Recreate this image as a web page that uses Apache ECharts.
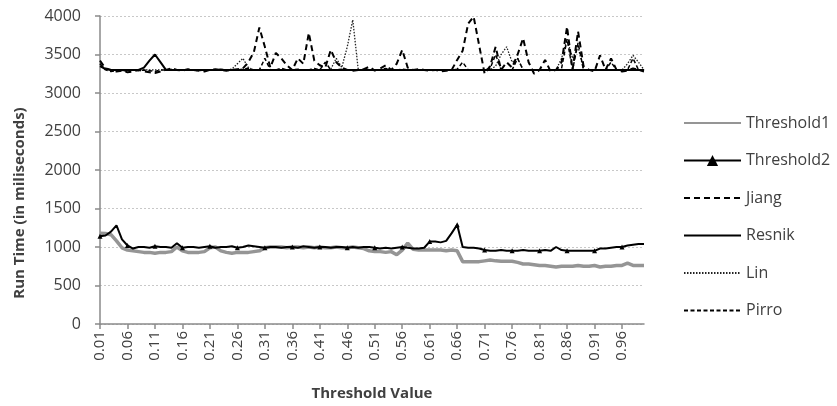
<!DOCTYPE html>
<html><head><meta charset="utf-8">
<script src="https://cdn.jsdelivr.net/npm/echarts@6/dist/echarts.min.js"></script>
<style>html,body{margin:0;padding:0;background:#fff}#c{width:837px;height:406px}</style>
</head><body><div id="c"></div>
<script>
const categories = [];
for (let k = 1; k <= 100; k++) categories.push((k / 100).toFixed(2));

const threshold1 = [1180,1175,1160,1080,990,960,950,940,930,930,920,930,930,940,1000,950,930,930,930,940,
990,1000,950,930,920,930,930,930,940,950,990,1000,1000,1000,990,1000,1000,990,1000,990,
1000,990,990,1000,990,990,1000,990,980,950,940,940,930,940,900,960,1050,970,960,960,
960,960,960,950,960,950,810,810,810,810,820,830,820,815,815,815,800,780,780,770,
760,760,750,740,750,750,750,760,750,750,760,740,750,750,760,760,790,760,760,760];

const threshold2 = [1140,1150,1200,1280,1100,1020,980,1000,1000,990,1010,1000,1000,990,1050,990,1000,1000,990,1000,
1010,990,1000,1000,1010,990,1000,1020,1010,1000,990,1000,1000,990,1000,1000,990,1010,1000,990,
1000,1000,990,1000,1000,990,1000,990,1000,1000,990,980,990,980,990,1000,990,980,980,990,
1070,1070,1060,1080,1180,1290,1000,990,990,980,960,950,950,960,950,950,950,960,950,950,
950,960,950,1000,960,950,950,950,950,950,950,980,980,990,1000,1000,1020,1030,1040,1040];

const jiang = [3420,3320,3300,3280,3290,3270,3280,3300,3280,3270,3260,3280,3300,3320,3300,3290,3310,3300,3290,3280,
3300,3310,3300,3290,3300,3310,3320,3400,3530,3850,3600,3330,3520,3450,3360,3300,3450,3380,3780,3420,
3360,3330,3560,3400,3330,3300,3290,3300,3310,3340,3290,3320,3360,3300,3380,3560,3330,3300,3310,3300,
3290,3300,3280,3290,3300,3430,3550,3900,3990,3620,3250,3350,3600,3300,3400,3330,3500,3710,3400,3250,
3300,3430,3280,3300,3400,3860,3300,3800,3350,3300,3280,3490,3300,3450,3300,3280,3290,3320,3300,3280];

const resnik = [3350,3310,3300,3300,3300,3300,3300,3300,3330,3420,3500,3400,3300,3300,3300,3300,3300,3300,3300,3300,
3300,3300,3300,3300,3300,3300,3300,3300,3300,3300,3300,3300,3300,3300,3300,3300,3300,3300,3300,3300,
3300,3300,3300,3300,3300,3300,3300,3300,3300,3300,3300,3300,3300,3300,3300,3300,3300,3300,3300,3300,
3300,3300,3300,3300,3300,3300,3300,3300,3300,3300,3300,3300,3300,3300,3300,3300,3300,3300,3300,3300,
3300,3300,3300,3300,3300,3300,3300,3300,3300,3300,3300,3300,3300,3300,3300,3300,3300,3300,3300,3300];

const lin = [3380,3320,3300,3300,3290,3300,3300,3300,3300,3300,3300,3300,3300,3300,3300,3300,3300,3300,3300,3300,
3300,3300,3300,3300,3310,3380,3450,3330,3300,3300,3300,3300,3300,3300,3300,3300,3300,3300,3300,3300,
3300,3300,3310,3450,3330,3600,3950,3300,3300,3300,3300,3300,3300,3300,3300,3300,3300,3300,3300,3300,
3300,3300,3300,3300,3300,3300,3300,3300,3300,3300,3300,3300,3350,3500,3600,3400,3450,3300,3300,3300,
3300,3300,3300,3300,3450,3700,3450,3600,3300,3300,3300,3300,3300,3300,3300,3300,3380,3490,3400,3300];

const pirro = [3380,3300,3280,3290,3300,3280,3300,3290,3300,3290,3280,3300,3300,3310,3300,3300,3300,3300,3290,3300,
3300,3300,3310,3300,3300,3300,3310,3320,3300,3300,3450,3300,3300,3320,3300,3300,3310,3300,3300,3320,
3300,3400,3300,3300,3310,3300,3300,3300,3300,3300,3300,3300,3320,3300,3300,3310,3300,3300,3300,3300,
3300,3300,3300,3300,3300,3310,3400,3300,3300,3300,3300,3320,3500,3300,3300,3300,3450,3300,3300,3300,
3300,3300,3300,3300,3320,3700,3300,3650,3300,3300,3300,3300,3300,3400,3300,3300,3300,3450,3300,3300];

const seriesNames = ['Threshold1', 'Threshold2', 'Jiang', 'Resnik', 'Lin', 'Pirro'];
const yTitle = 'Run Time (in miliseconds)';
const xTitle = 'Threshold Value';
const yMin = 0, yMax = 4000, yStep = 500;

const chart = echarts.init(document.getElementById('c'), null, {renderer: 'canvas'});
const txt = '#404040';
const ff = '"Open Sans", "Noto Sans", sans-serif';
chart.setOption({
  animation: false,
  backgroundColor: '#fff',
  grid: {left: 100, right: 193, top: 16, bottom: 82, containLabel: false},
  graphic: [{
    type: 'text', rotation: Math.PI / 2,
    x: 20, y: 203,
    style: {text: yTitle, fill: txt, font: 'bold 15px ' + ff, textAlign: 'center', textVerticalAlign: 'middle'}
  }],
  legend: {
    orient: 'vertical', left: 678, top: 110, itemWidth: 57, itemHeight: 14, itemGap: 21.5,
    textStyle: {color: txt, fontSize: 16, fontFamily: ff, padding: [0, 0, 0, 0]},
    data: seriesNames.map(n => n === 'Threshold2' ? {name: n} : {name: n, itemStyle: {opacity: 0}})
  },
  xAxis: {
    type: 'category', data: categories, boundaryGap: false,
    name: xTitle, nameLocation: 'middle', nameGap: 62,
    nameTextStyle: {color: txt, fontSize: 15, fontWeight: 'bold', fontFamily: ff},
    axisLine: {lineStyle: {color: '#8a8a8a', width: 1.5}},
    axisTick: {interval: 4, length: 5, lineStyle: {color: '#8a8a8a', width: 1.5}},
    axisLabel: {interval: 4, rotate: 90, color: txt, fontSize: 15, fontFamily: ff, margin: 7},
    splitLine: {show: false}
  },
  yAxis: {
    type: 'value', min: yMin, max: yMax, interval: yStep,
    axisLine: {show: true, lineStyle: {color: '#8a8a8a', width: 1.5}},
    axisTick: {show: true, length: 5, lineStyle: {color: '#8a8a8a', width: 1.5}},
    axisLabel: {color: txt, fontSize: 16, fontFamily: ff, margin: 19, formatter: v => String(v)},
    splitLine: {lineStyle: {color: '#c8c8c8', type: [2, 2], width: 1}}
  },
  series: [
    {name: seriesNames[0], type: 'line', data: threshold1, symbol: 'none', z: 2,
     lineStyle: {color: '#959595', width: 3.5}, itemStyle: {color: '#959595'}},
    {name: seriesNames[1], type: 'line', data: threshold2, symbol: 'triangle', symbolSize: 5, z: 3,
     lineStyle: {color: '#000', width: 2}, itemStyle: {color: '#000'}},
    {name: seriesNames[2], type: 'line', data: jiang, symbol: 'none', z: 3,
     lineStyle: {color: '#000', width: 2, type: [6, 4]}, itemStyle: {color: '#000'}},
    {name: seriesNames[3], type: 'line', data: resnik, symbol: 'none', z: 4,
     lineStyle: {color: '#000', width: 2}, itemStyle: {color: '#000'}},
    {name: seriesNames[4], type: 'line', data: lin, symbol: 'none', z: 2,
     lineStyle: {color: '#222', width: 1.3, type: [1.5, 1.5]}, itemStyle: {color: '#222'}},
    {name: seriesNames[5], type: 'line', data: pirro, symbol: 'none', z: 2,
     lineStyle: {color: '#000', width: 1.5, type: [4, 2.5]}, itemStyle: {color: '#000'}}
  ]
});
</script></body></html>
